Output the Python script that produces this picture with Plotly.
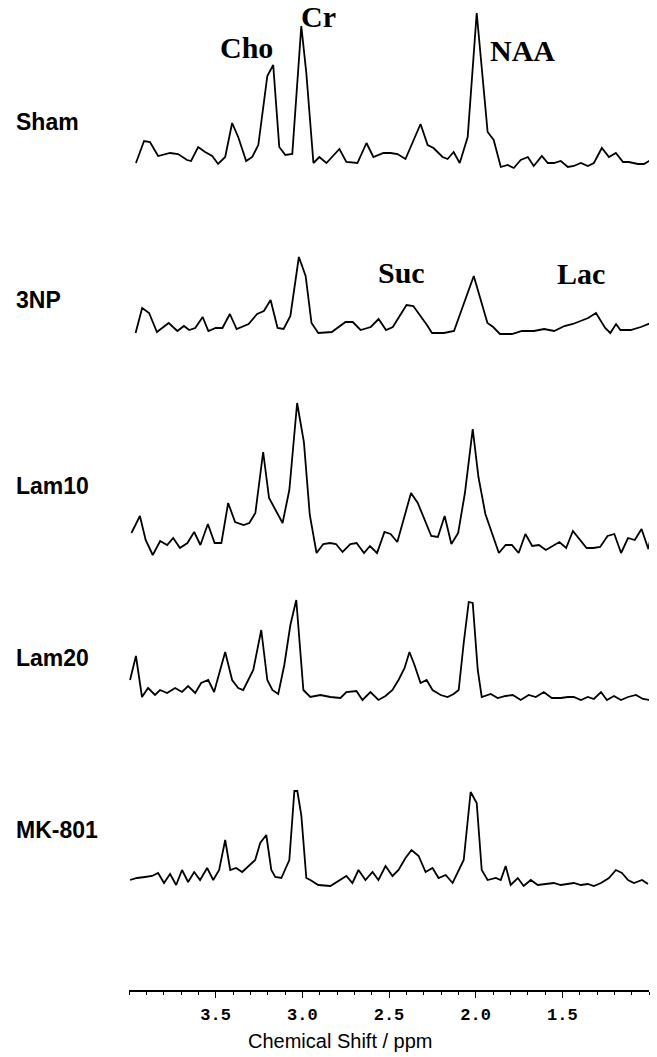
import numpy as np
import plotly.graph_objects as go

# ---- spectra: chemical shift (ppm) and signal height above each trace's baseline (a.u.) ----
sham_ppm = [3.96, 3.913, 3.879, 3.832, 3.763, 3.717, 3.665, 3.642, 3.601, 3.561, 3.520, 3.486,
            3.445, 3.405, 3.370, 3.324, 3.289, 3.254, 3.202, 3.168, 3.133, 3.098, 3.058, 3.006,
            2.977, 2.936, 2.902, 2.861, 2.786, 2.746, 2.682, 2.630, 2.590, 2.532, 2.491, 2.451,
            2.405, 2.318, 2.277, 2.243, 2.191, 2.162, 2.127, 2.092, 2.046, 1.994, 1.931, 1.896,
            1.855, 1.815, 1.780, 1.740, 1.699, 1.665, 1.618, 1.584, 1.549, 1.509, 1.468, 1.434,
            1.393, 1.353, 1.318, 1.272, 1.231, 1.191, 1.150, 1.116, 1.064, 1.029, 0.99]
sham_int = [2, 24, 23, 9, 12, 11, 5, 4, 18, 13, 9, 1,
            8, 42, 28, 4, 8, 20, 89, 100, 18, 10, 11, 139,
            92, 2, 8, 2, 16, 3, 2, 22, 8, 12, 12, 11,
            6, 41, 20, 17, 8, 6, 13, 2, 28, 152, 33, 25,
            -2, 0, -3, 5, 8, -1, 9, 2, 2, 4, -2, -1,
            2, -1, 2, 17, 8, 12, 3, 3, 1, 1, 5]

np3_ppm = [3.962, 3.924, 3.884, 3.839, 3.771, 3.721, 3.683, 3.653, 3.618, 3.575, 3.542, 3.500,
           3.461, 3.418, 3.379, 3.310, 3.261, 3.222, 3.183, 3.143, 3.108, 3.069, 3.020, 2.981,
           2.947, 2.908, 2.830, 2.751, 2.709, 2.664, 2.605, 2.560, 2.517, 2.478, 2.399, 2.360,
           2.281, 2.252, 2.183, 2.125, 2.011, 1.932, 1.899, 1.860, 1.791, 1.733, 1.664, 1.605,
           1.547, 1.488, 1.439, 1.351, 1.306, 1.253, 1.223, 1.190, 1.165, 1.106, 1.047, 0.99]
np3_int = [0, 25, 20, 1, 10, 2, 7, 3, 5, 16, 2, 5,
           5, 19, 4, 9, 19, 22, 33, 5, 4, 17, 76, 57,
           10, 0, 1, 11, 11, 3, 6, 14, 3, 6, 28, 27,
           8, 0, 0, 2, 57, 10, 6, -1, -1, 2, 2, 4,
           2, 7, 9, 15, 20, 5, 0, 9, 3, 3, 6, 10]

lam10_ppm = [3.986, 3.937, 3.904, 3.863, 3.820, 3.780, 3.745, 3.706, 3.663, 3.624, 3.588, 3.545,
             3.506, 3.467, 3.428, 3.388, 3.339, 3.306, 3.271, 3.226, 3.192, 3.114, 3.075, 3.030,
             2.991, 2.957, 2.918, 2.879, 2.840, 2.806, 2.768, 2.723, 2.687, 2.644, 2.610, 2.569,
             2.526, 2.491, 2.452, 2.373, 2.334, 2.256, 2.218, 2.179, 2.140, 2.101, 2.062, 2.017,
             1.984, 1.944, 1.866, 1.827, 1.791, 1.752, 1.713, 1.674, 1.635, 1.595, 1.517, 1.478,
             1.439, 1.360, 1.321, 1.282, 1.239, 1.200, 1.161, 1.121, 1.082, 1.043, 1.004, 0.99]
lam10_int = [22, 39, 15, 0, 14, 10, 17, 7, 12, 23, 10, 31,
             12, 12, 52, 33, 30, 32, 42, 103, 57, 32, 65, 152,
             113, 40, 2, 11, 12, 11, 3, 11, 12, 2, 9, 2,
             23, 21, 13, 62, 52, 19, 18, 39, 11, 22, 62, 126,
             78, 41, 2, 10, 10, 2, 21, 9, 10, 5, 13, 7,
             24, 7, 7, 8, 19, 21, 2, 17, 15, 26, 6, 18]

lam20_ppm = [3.994, 3.960, 3.925, 3.890, 3.850, 3.821, 3.780, 3.734, 3.694, 3.659, 3.618, 3.584,
             3.543, 3.509, 3.474, 3.445, 3.405, 3.370, 3.341, 3.312, 3.283, 3.237, 3.202, 3.173,
             3.139, 3.104, 3.069, 3.035, 2.994, 2.954, 2.896, 2.838, 2.780, 2.746, 2.688, 2.653,
             2.607, 2.561, 2.520, 2.480, 2.445, 2.410, 2.382, 2.353, 2.318, 2.283, 2.249, 2.202,
             2.162, 2.127, 2.098, 2.069, 2.040, 2.017, 1.988, 1.965, 1.913, 1.873, 1.827, 1.786,
             1.740, 1.694, 1.653, 1.607, 1.561, 1.509, 1.468, 1.434, 1.393, 1.353, 1.318, 1.277,
             1.243, 1.202, 1.162, 1.121, 1.075, 1.035, 0.994]
lam20_int = [20, 44, 3, 12, 5, 10, 7, 12, 8, 14, 7, 17,
             20, 8, 30, 48, 20, 12, 10, 20, 30, 70, 20, 10,
             6, 35, 75, 100, 10, 3, 5, 3, 2, 8, 9, 0,
             8, 0, 4, 10, 20, 32, 48, 35, 17, 20, 10, 5,
             3, 6, 10, 57, 98, 97, 30, 3, 6, 2, 4, 5,
             0, 5, 3, 8, 2, 2, 3, 3, 0, 3, 1, 8,
             0, 4, 0, 3, 5, 1, 0]

mk801_ppm = [3.994, 3.954, 3.908, 3.867, 3.832, 3.798, 3.763, 3.728, 3.694, 3.659, 3.624, 3.590,
             3.549, 3.514, 3.480, 3.445, 3.416, 3.382, 3.347, 3.312, 3.272, 3.243, 3.208, 3.179,
             3.156, 3.121, 3.075, 3.046, 3.029, 3.006, 2.977, 2.954, 2.908, 2.838, 2.780, 2.746,
             2.711, 2.676, 2.636, 2.595, 2.561, 2.520, 2.480, 2.445, 2.405, 2.370, 2.329, 2.289,
             2.249, 2.214, 2.173, 2.133, 2.069, 2.029, 1.994, 1.965, 1.931, 1.884, 1.855, 1.827,
             1.798, 1.757, 1.723, 1.682, 1.642, 1.595, 1.549, 1.509, 1.468, 1.434, 1.393, 1.353,
             1.318, 1.277, 1.231, 1.191, 1.156, 1.121, 1.087, 1.040, 1.006]
mk801_int = [5, 7, 8, 9, 12, 2, 11, 0, 15, 3, 13, 5,
             17, 5, 15, 45, 15, 17, 13, 19, 25, 42, 50, 15,
             8, 7, 25, 94, 94, 70, 7, 5, 0, -1, 5, 9,
             2, 15, 5, 13, 5, 19, 9, 15, 27, 35, 29, 13,
             17, 7, 10, 2, 25, 93, 82, 15, 5, 7, 5, 19,
             0, 7, -1, 5, 0, 1, 2, 0, 1, 2, 0, 1,
             -1, 2, 7, 15, 12, 5, 2, 5, 1]

group_names = ["Sham", "3NP", "Lam10", "Lam20", "MK-801"]
spectra = [(sham_ppm, sham_int), (np3_ppm, np3_int), (lam10_ppm, lam10_int),
           (lam20_ppm, lam20_int), (mk801_ppm, mk801_int)]

# vertical stacking: baseline of each trace and height of its name label
baselines = [825, 657, 435, 290, 105]
name_heights = [868, 690, 504, 332, 160]

# peak assignments: (text, ppm, height)
peak_labels = [("Cho", 3.325, 943), ("Cr", 2.905, 974), ("NAA", 1.727, 940),
               ("Suc", 2.43, 718), ("Lac", 1.39, 717)]

major_ticks = [3.5, 3.0, 2.5, 2.0, 1.5]
major_text = ["3.5", "3.0", "2.5", "2.0", "1.5"]

fig = go.Figure()
for (ppm, amp), base in zip(spectra, baselines):
    fig.add_trace(go.Scatter(
        x=ppm, y=np.asarray(amp, dtype=float) + base,
        mode="lines", line=dict(color="black", width=1.8),
        hoverinfo="skip", showlegend=False))

minor_vals = [round(v, 1) for v in np.arange(1.0, 4.01, 0.1)
              if all(abs(v - m) > 1e-6 for m in major_ticks)]

fig.update_layout(
    width=657, height=1057,
    margin=dict(l=129, r=8, t=0, b=67),
    paper_bgcolor="white", plot_bgcolor="white",
    xaxis=dict(
        range=[4.0, 1.0], showgrid=False, zeroline=False,
        showline=True, linecolor="black", linewidth=1.5,
        ticks="outside", ticklen=6, tickwidth=1.4, tickcolor="black",
        tickmode="array", tickvals=major_ticks, ticktext=major_text,
        tickfont=dict(family="Liberation Mono", size=17, color="black", weight="bold"),
        ticklabelstandoff=2,
        minor=dict(tickmode="array", tickvals=minor_vals, ticks="outside",
                   ticklen=3, tickwidth=1.4, tickcolor="black", showgrid=False),
    ),
    yaxis=dict(range=[0, 990], visible=False, fixedrange=True),
)

for name, yh in zip(group_names, name_heights):
    fig.add_annotation(text=name, xref="paper", x=-(129 - 14) / 520, xanchor="left",
                       yref="y", y=yh, yanchor="middle", showarrow=False,
                       font=dict(family="Liberation Sans", size=23, color="black", weight="bold"))

for text, px, py in peak_labels:
    fig.add_annotation(text=text, xref="x", x=px, yref="y", y=py,
                       xanchor="center", yanchor="middle", showarrow=False,
                       font=dict(family="Liberation Serif", size=30, color="black", weight="bold"))

fig.add_annotation(text="Chemical Shift / ppm", xref="paper", x=(340 - 129) / 520,
                   xanchor="center", yref="paper", y=-0.052, yanchor="middle",
                   showarrow=False,
                   font=dict(family="Liberation Sans", size=20, color="black"))

fig.write_html("out.html")
